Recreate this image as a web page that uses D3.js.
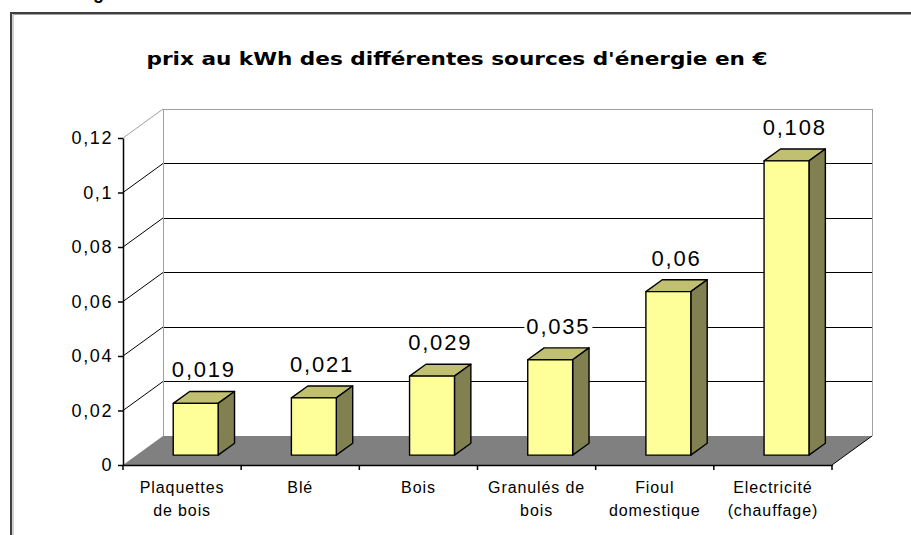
<!DOCTYPE html>
<html>
<head>
<meta charset="utf-8">
<script src="https://cdn.jsdelivr.net/npm/d3@7"></script>
<style>
  body { margin: 0; background: #fff; }
  svg { display: block; }
  text { font-family: Arial, "Liberation Sans", sans-serif; fill: #000; }
  text.title { font-family: "DejaVu Sans", Verdana, sans-serif; }
</style>
</head>
<body>
<svg id="chart" width="911" height="535"></svg>
<script>
// Price per kWh of each energy source, in euros
const categories = ["Plaquettes\nde bois", "Blé", "Bois", "Granulés de\nbois", "Fioul\ndomestique", "Electricité\n(chauffage)"];
const prices = [0.019, 0.021, 0.029, 0.035, 0.06, 0.108];
const yTicks = [0, 0.02, 0.04, 0.06, 0.08, 0.1, 0.12];
const yTickLabels = ["0", "0,02", "0,04", "0,06", "0,08", "0,1", "0,12"];
const title = "prix au kWh des différentes sources d'énergie en €";

const svg = d3.select("#chart");

// Front plane of the 3D plot and the oblique depth of the box
const plot = { left: 123, right: 832, top: 138, bottom: 465 };
const depth = { dx: 40, dy: 29 };
const barFront = 0.34;   // bars start this far back into the box
const barDepth = 0.41;   // and are this deep

const x = d3.scaleBand()
  .domain(categories)
  .range([plot.left, plot.right])
  .paddingInner(0.62)
  .paddingOuter(0.31);
const y = d3.scaleLinear().domain([0, 0.12]).range([plot.bottom, plot.top]);
const yMax = yTicks[yTicks.length - 1];

// Frame of the chart object
svg.append("path")
  .attr("d", "M11,540V13H915")
  .attr("fill", "none")
  .attr("stroke", "#404040")
  .attr("stroke-width", 2);
svg.append("path")
  .attr("d", "M13,540V14.5H915")
  .attr("fill", "none")
  .attr("stroke", "#a0a0a0")
  .attr("stroke-width", 1);

// Tail of the heading above the chart
svg.append("text")
  .attr("x", 93).attr("y", -1)
  .attr("font-size", 18).attr("font-weight", "bold")
  .text("g");

// Title
svg.append("text")
  .attr("class", "title")
  .attr("x", 457).attr("y", 65)
  .attr("text-anchor", "middle")
  .attr("font-size", 18)
  .attr("font-weight", "bold")
  .attr("textLength", 621)
  .attr("lengthAdjust", "spacingAndGlyphs")
  .text(title);

// Back wall
const wallLeft = plot.left + depth.dx;
const wallRight = plot.right + depth.dx;
svg.append("rect")
  .attr("x", wallLeft).attr("y", y(yMax) - depth.dy)
  .attr("width", wallRight - wallLeft)
  .attr("height", y(0) - y(yMax))
  .attr("fill", "#fff");

// Gridlines: oblique on the side wall, horizontal on the back wall
const grid = svg.append("g").attr("shape-rendering", "crispEdges");
yTicks.filter(v => v > 0).forEach(v => {
  const col = v === yMax ? "#a0a0a0" : "#000";
  svg.append("line")
    .attr("x1", plot.left).attr("y1", y(v))
    .attr("x2", wallLeft).attr("y2", y(v) - depth.dy)
    .attr("stroke", col).attr("stroke-width", 1);
  grid.append("line")
    .attr("x1", wallLeft).attr("y1", y(v) - depth.dy)
    .attr("x2", wallRight).attr("y2", y(v) - depth.dy)
    .attr("stroke", col).attr("stroke-width", 1);
});
// Wall verticals
grid.append("line")
  .attr("x1", wallLeft).attr("x2", wallLeft)
  .attr("y1", y(yMax) - depth.dy).attr("y2", y(0) - depth.dy)
  .attr("stroke", "#a0a0a0");
grid.append("line")
  .attr("x1", wallRight).attr("x2", wallRight)
  .attr("y1", y(yMax) - depth.dy).attr("y2", y(0) - depth.dy)
  .attr("stroke", "#a0a0a0");

// Floor
svg.append("polygon")
  .attr("points", [
    [plot.left, y(0)], [plot.right, y(0)],
    [wallRight, y(0) - depth.dy], [wallLeft, y(0) - depth.dy]
  ].map(p => p.join(",")).join(" "))
  .attr("fill", "#808080");
svg.append("line")
  .attr("x1", plot.right).attr("y1", y(0))
  .attr("x2", wallRight).attr("y2", y(0) - depth.dy)
  .attr("stroke", "#000").attr("stroke-width", 1);

// Bars as 3D boxes
const bw = x.bandwidth();
const fdx = depth.dx * barFront, fdy = depth.dy * barFront;
const bdx = depth.dx * barDepth, bdy = depth.dy * barDepth;
const pts = a => a.map(p => p.join(",")).join(" ");

const bars = svg.append("g").selectAll("g")
  .data(categories.map((c, i) => ({ c, v: prices[i] })))
  .join("g");

bars.each(function (d) {
  const g = d3.select(this);
  const x0 = x(d.c) + fdx;
  const yt = y(d.v) - fdy;
  const yb = y(0) - fdy;
  g.append("polygon")
    .attr("points", pts([[x0, yt], [x0 + bw, yt], [x0 + bw + bdx, yt - bdy], [x0 + bdx, yt - bdy]]))
    .attr("fill", "#c0c070");
  g.append("polygon")
    .attr("points", pts([[x0 + bw, yt], [x0 + bw + bdx, yt - bdy], [x0 + bw + bdx, yb - bdy], [x0 + bw, yb]]))
    .attr("fill", "#808050");
  g.append("rect")
    .attr("x", x0).attr("y", yt)
    .attr("width", bw).attr("height", yb - yt)
    .attr("fill", "#ffff99");
  g.selectAll("polygon, rect")
    .attr("stroke", "#000").attr("stroke-width", 1.4).attr("stroke-linejoin", "round");
});

// Value labels on a white background
const labels = svg.append("g");
categories.forEach((c, i) => {
  const v = prices[i];
  const cx = x(c) + fdx + (bw + bdx) / 2;
  const base = y(v) - fdy - bdy - 14;
  const txt = String(v).replace(".", ",");
  const t = labels.append("text")
    .attr("x", cx).attr("y", base)
    .attr("text-anchor", "middle")
    .attr("font-size", 22)
    .attr("letter-spacing", 1.8)
    .attr("fill", "#111")
    .text(txt);
  const bb = t.node().getBBox();
  labels.insert("rect", "text")
    .attr("x", bb.x - 2).attr("y", base - 17)
    .attr("width", bb.width + 4).attr("height", 18)
    .attr("fill", "#fff");
});

// Y axis
const gy = svg.append("g")
  .attr("transform", `translate(${plot.left},0)`)
  .call(d3.axisLeft(y)
    .tickValues(yTicks)
    .tickFormat((d, i) => yTickLabels[i])
    .tickSize(5)
    .tickSizeOuter(0)
    .tickPadding(5));
gy.select(".domain").attr("stroke", "#000").attr("stroke-width", 1.5);
gy.selectAll(".tick line").attr("stroke", "#000").attr("stroke-width", 1.5);
gy.selectAll(".tick text")
  .attr("font-size", 18)
  .attr("letter-spacing", 1.6)
  .attr("fill", "#000");

// X axis with category labels on one or two lines
const gx = svg.append("g")
  .attr("transform", `translate(0,${plot.bottom})`)
  .call(d3.axisBottom(x).tickSize(0).tickSizeOuter(0).tickPadding(0));
gx.select(".domain").attr("stroke", "#000").attr("stroke-width", 1.5);
gx.selectAll(".tick text")
  .attr("dy", null)
  .attr("font-size", 16)
  .attr("letter-spacing", 0.9)
  .attr("fill", "#000")
  .each(function (d) {
    const t = d3.select(this);
    t.text(null);
    d.split("\n").forEach((line, k) => {
      t.append("tspan").attr("x", 0).attr("y", 28 + k * 23).text(line);
    });
  });

// Tick marks between categories
const pad = x.step() * x.paddingOuter();
const bounds = [x(categories[0]) - pad].concat(categories.map(c => x(c) + bw + pad));
gx.selectAll(".bound")
  .data(bounds)
  .join("line")
  .attr("class", "bound")
  .attr("x1", d => d).attr("x2", d => d)
  .attr("y1", 0).attr("y2", 5)
  .attr("stroke", "#000").attr("stroke-width", 1.5);
</script>
</body>
</html>
